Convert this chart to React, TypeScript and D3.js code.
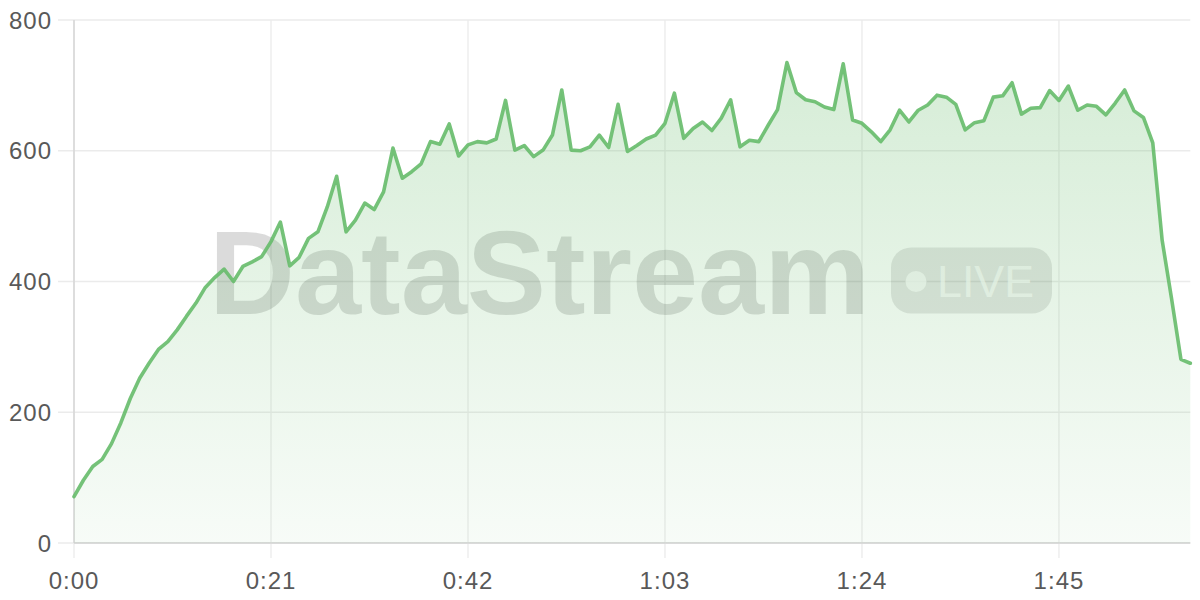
import React from "react";
import * as d3 from "d3";

const seconds: number[] = Array.from({ length: 120 }, (_, i) => i);
const values: number[] = [
  71, 96, 117, 128, 152, 184, 221, 252, 275, 296,
  308, 326, 347, 367, 391, 406, 419, 400, 423, 430,
  438, 461, 491, 424, 437, 466, 476, 514, 561, 476,
  494, 520, 510, 537, 604, 558, 568, 580, 614, 610,
  641, 592, 609, 614, 612, 618, 677, 601, 608, 591,
  601, 624, 693, 601, 600, 606, 624, 605, 671, 599,
  608, 618, 624, 642, 688, 619, 634, 644, 631, 650,
  678, 606, 616, 614, 639, 663, 735, 689, 678, 675,
  667, 663, 733, 647, 642, 629, 614, 632, 662, 644,
  662, 670, 685, 682, 671, 632, 643, 646, 682, 684,
  704, 656, 665, 666, 692, 677, 699, 662, 670, 668,
  655, 673, 693, 661, 651, 612, 463, 374, 281, 275,
];
const xTicks: number[] = [0, 21, 42, 63, 84, 105];
const yTicks: number[] = [0, 200, 400, 600, 800];

const W = 1200;
const H = 600;
const left = 74;
const right = 1190.3;
const top = 20;
const bottom = 543;
const lineColor = "#66bb6a";
const fontFamily = "'Liberation Sans', Arial, sans-serif";

const fmt = (s: number) => `${Math.floor(s / 60)}:${String(s % 60).padStart(2, "0")}`;

export default function App() {
  const x = d3.scaleLinear().domain([0, 119]).range([left, right]);
  const y = d3.scaleLinear().domain([0, 800]).range([bottom, top]);
  const pts = seconds.map((s, i) => ({ s, v: values[i] }));
  const line = d3.line<{ s: number; v: number }>().x((d) => x(d.s)).y((d) => y(d.v));
  const area = d3
    .area<{ s: number; v: number }>()
    .x((d) => x(d.s))
    .y0(y(0))
    .y1((d) => y(d.v));
  const yMax = y(d3.max(values) as number);

  return (
    <svg
      width={W}
      height={H}
      style={{ position: "absolute", left: 0, top: 0, display: "block", background: "#fff" }}
    >
      <defs>
        <linearGradient id="fillGrad" gradientUnits="userSpaceOnUse" x1="0" y1={yMax} x2="0" y2={bottom}>
          <stop offset="0%" stopColor={lineColor} stopOpacity={0.27} />
          <stop offset="100%" stopColor={lineColor} stopOpacity={0.05} />
        </linearGradient>
      </defs>

      {yTicks.map((t) => (
        <line key={"h" + t} x1={58} x2={right} y1={y(t)} y2={y(t)} stroke="#ebebeb" strokeWidth={1.3} />
      ))}
      {xTicks.map((t) => (
        <line key={"v" + t} x1={x(t)} x2={x(t)} y1={top} y2={558} stroke="#ebebeb" strokeWidth={1.3} />
      ))}
      <line x1={left} x2={left} y1={top} y2={bottom} stroke="#d6d6d6" strokeWidth={1.5} />
      <line x1={left} x2={right} y1={bottom} y2={bottom} stroke="#d3d3d3" strokeWidth={1.5} />

      <g>
        <text
          x={209}
          y={314}
          fontFamily={fontFamily}
          fontWeight={700}
          fontSize={119}
          fill="#000"
          fillOpacity={0.14}
          textLength={661}
          lengthAdjust="spacingAndGlyphs"
        >
          DataStream
        </text>
        <rect x={891} y={247.5} width={161} height={66} rx={20} fill="#000" fillOpacity={0.1} />
        <circle cx={916} cy={281.5} r={10.5} fill="#fff" fillOpacity={0.72} />
        <text
          x={937}
          y={297}
          fontFamily={fontFamily}
          fontSize={44}
          fill="#fff"
          fillOpacity={0.72}
          textLength={97}
          lengthAdjust="spacingAndGlyphs"
        >
          LIVE
        </text>
      </g>

      <path d={area(pts) || ""} fill="url(#fillGrad)" />
      <path d={line(pts) || ""} fill="none" stroke={lineColor} strokeWidth={3.6} strokeLinejoin="round" strokeLinecap="round" opacity={0.9} />

      {yTicks.map((t) => (
        <text
          key={"yl" + t}
          x={52}
          y={y(t)}
          dy="0.36em"
          textAnchor="end"
          fontFamily={fontFamily}
          fontSize={24}
          letterSpacing={1}
          fill="#595959"
        >
          {t}
        </text>
      ))}
      {xTicks.map((t) => (
        <text
          key={"xl" + t}
          x={x(t)}
          y={580}
          dy="0.36em"
          textAnchor="middle"
          fontFamily={fontFamily}
          fontSize={24}
          letterSpacing={1}
          fill="#595959"
        >
          {fmt(t)}
        </text>
      ))}
    </svg>
  );
}
